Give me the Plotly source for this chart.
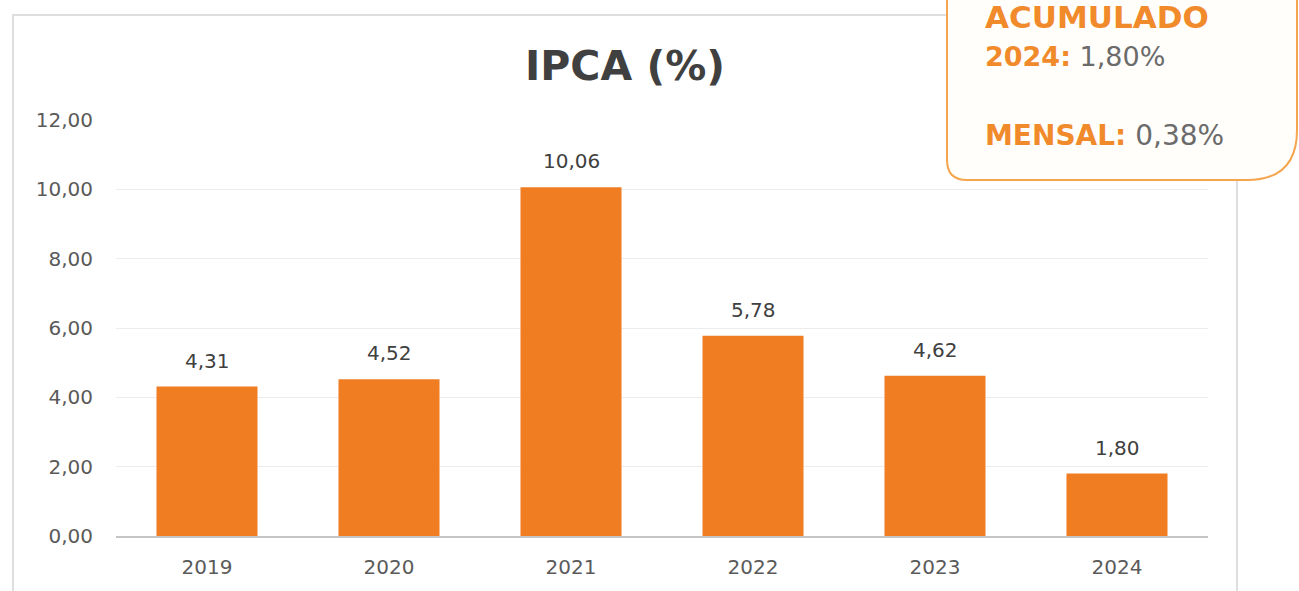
import plotly.graph_objects as go

years = ["2019", "2020", "2021", "2022", "2023", "2024"]
ipca = [4.31, 4.52, 10.06, 5.78, 4.62, 1.80]
y_ticks = [0, 2, 4, 6, 8, 10, 12]
acumulado_label = "1,80%"
mensal_label = "0,38%"

BAR = "#F07D22"
ORANGE_TXT = "#F18A2B"
GRAY_TXT = "#5a5a5a"
FONT = "DejaVu Sans"

W, H = 1299, 591
L, T = 116, 120
R = W - 1208
B = H - 536
pw, ph = W - L - R, H - T - B

def px(x):
    return (x - L) / pw

def py(y):
    return (H - B - y) / ph

fig = go.Figure()
fig.add_trace(go.Bar(
    x=years, y=ipca, marker=dict(color=BAR, line=dict(width=0)),
    hoverinfo="skip",
))

for i, v in enumerate(ipca):
    fig.add_annotation(x=i, y=v, xref="x", yref="y", text=f"{v:.2f}".replace(".", ","),
                       showarrow=False, yanchor="bottom", yshift=12,
                       font=dict(family=FONT, size=20, color="#404040"))

# frame
fig.add_shape(type="rect", xref="paper", yref="paper",
              x0=px(13), x1=px(1237), y0=py(620), y1=py(15),
              line=dict(color="#dedede", width=2), fillcolor="rgba(0,0,0,0)", layer="below")

# info box
x0, x1 = px(947), px(1297)
yb, yt = py(180), py(-20)
rlx, rly = 20 / pw, 20 / ph
rrx, rry = 50 / pw, 50 / ph
path = (f"M {x0},{yt} L {x0},{yb + rly} Q {x0},{yb} {x0 + rlx},{yb} "
        f"L {x1 - rrx},{yb} Q {x1},{yb} {x1},{yb + rry} L {x1},{yt} Z")
fig.add_shape(type="path", xref="paper", yref="paper", path=path,
              line=dict(color="#F5A54E", width=2), fillcolor="#FFFEFB", layer="above")

fig.add_annotation(xref="paper", yref="paper", x=px(983), y=py(17), xanchor="left", yanchor="middle",
                   text="<b>ACUMULADO</b>", showarrow=False,
                   font=dict(family=FONT, size=31, color=ORANGE_TXT))
fig.add_annotation(xref="paper", yref="paper", x=px(983), y=py(56), xanchor="left", yanchor="middle",
                   text=f"<b>2024:</b> <span style='color:#6b6b6b'>{acumulado_label}</span>",
                   showarrow=False, font=dict(family=FONT, size=27, color=ORANGE_TXT))
fig.add_annotation(xref="paper", yref="paper", x=px(983), y=py(135), xanchor="left", yanchor="middle",
                   text=f"<b>MENSAL:</b> <span style='color:#6b6b6b'>{mensal_label}</span>",
                   showarrow=False, font=dict(family=FONT, size=28, color=ORANGE_TXT))

fig.update_layout(
    width=W, height=H,
    margin=dict(l=L, r=R, t=T, b=B),
    paper_bgcolor="white", plot_bgcolor="white",
    separators=",.",
    showlegend=False,
    bargap=0.445,
    title=dict(text="<b>IPCA (%)</b>", x=625 / W, xref="container", xanchor="center",
               y=1 - 66 / H, yref="container", yanchor="middle",
               font=dict(family=FONT, size=41, color="#404040")),
    xaxis=dict(type="category", range=[-0.5, 5.5], autorange=False,
               showline=True, linecolor="#c4c4c4", linewidth=2, ticks="",
               tickfont=dict(family=FONT, size=20, color=GRAY_TXT), showgrid=False,
               ticklabelstandoff=12),
    yaxis=dict(range=[0, 12], autorange=False, tickvals=y_ticks, tickformat=".2f", showgrid=True,
               gridcolor="#ececec", gridwidth=1, zeroline=False, ticks="",
               tickfont=dict(family=FONT, size=20, color=GRAY_TXT),
               ticklabelstandoff=22),
)

fig.write_html("out.html", config={"displayModeBar": False},
               post_script="document.body.style.margin='0px';document.body.style.overflow='hidden';")
